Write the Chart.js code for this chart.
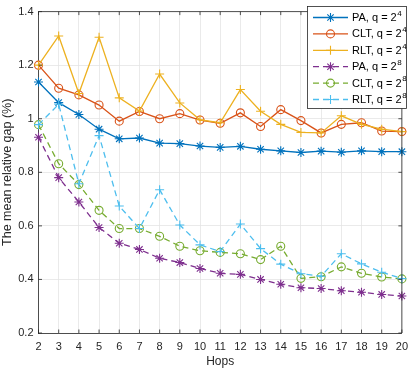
<!DOCTYPE html>
<html>
<head>
<meta charset="utf-8">
<script src="https://cdn.jsdelivr.net/npm/chart.js@4.4.1/dist/chart.umd.min.js"></script>
<style>
  html, body { margin: 0; padding: 0; background: #fff; }
  canvas { display: block; }
</style>
</head>
<body>
<canvas id="gap" width="415" height="373"></canvas>
<script>
const hops = [2, 3, 4, 5, 6, 7, 8, 9, 10, 11, 12, 13, 14, 15, 16, 17, 18, 19, 20];

const paQ4 = [1.137, 1.06, 1.016, 0.961, 0.925, 0.928, 0.909, 0.907, 0.898, 0.893, 0.897, 0.886, 0.880, 0.874, 0.879, 0.875, 0.880, 0.877, 0.877];
const cltQ4 = [1.2, 1.114, 1.089, 1.051, 0.991, 1.027, 1.0, 1.019, 0.995, 0.983, 1.022, 0.971, 1.034, 0.993, 0.947, 0.979, 0.985, 0.954, 0.952];
const rltQ4 = [1.2, 1.309, 1.094, 1.304, 1.078, 1.029, 1.167, 1.059, 0.996, 0.985, 1.109, 1.028, 0.979, 0.949, 0.947, 1.011, 0.979, 0.961, 0.952];
const paQ8 = [0.931, 0.78, 0.689, 0.594, 0.535, 0.512, 0.479, 0.463, 0.441, 0.423, 0.419, 0.40, 0.382, 0.369, 0.366, 0.358, 0.352, 0.344, 0.338];
const cltQ8 = [0.978, 0.832, 0.754, 0.658, 0.590, 0.590, 0.561, 0.524, 0.507, 0.501, 0.496, 0.474, 0.524, 0.404, 0.410, 0.447, 0.423, 0.409, 0.402];
const rltQ8 = [0.978, 1.054, 0.757, 0.937, 0.674, 0.59, 0.735, 0.603, 0.529, 0.504, 0.607, 0.515, 0.457, 0.421, 0.412, 0.496, 0.458, 0.427, 0.403];

const seriesLabels = ["PA, q = 2^4", "CLT, q = 2^4", "RLT, q = 2^4", "PA, q = 2^8", "CLT, q = 2^8", "RLT, q = 2^8"];
const yTicks = [0.2, 0.4, 0.6, 0.8, 1, 1.2, 1.4];

const FONT = "'Liberation Sans', Arial, Helvetica, sans-serif";
const INK = "#262626";
const CLEAR = "rgba(0,0,0,0)";

const makeSet = (i, data, color, marker, dashed) => ({
  label: seriesLabels[i],
  data: data,
  borderColor: color,
  backgroundColor: CLEAR,
  borderWidth: 1.3,
  borderDash: dashed ? [6, 4] : [],
  pointStyle: marker,
  pointRadius: marker === "circle" ? 4 : 4.5,
  pointBorderWidth: 1.1,
  pointBackgroundColor: CLEAR,
  pointBorderColor: color,
  tension: 0,
  order: 6 - i,
});

// inner tick marks + top/right box, like the matlab axes
const axesBox = {
  id: "axesBox",
  afterDatasetsDraw(chart) {
    const { ctx, chartArea: a, scales } = chart;
    ctx.save();
    ctx.strokeStyle = INK;
    ctx.lineWidth = 0.8;
    ctx.beginPath();
    ctx.moveTo(a.left, a.top);
    ctx.lineTo(a.right, a.top);
    ctx.lineTo(a.right, a.bottom);
    scales.x.ticks.forEach((t, i) => {
      const x = scales.x.getPixelForTick(i);
      ctx.moveTo(x, a.bottom); ctx.lineTo(x, a.bottom - 3.5);
      ctx.moveTo(x, a.top); ctx.lineTo(x, a.top + 3.5);
    });
    scales.y.ticks.forEach((t) => {
      const y = scales.y.getPixelForValue(t.value);
      ctx.moveTo(a.left, y); ctx.lineTo(a.left + 3.5, y);
      ctx.moveTo(a.right, y); ctx.lineTo(a.right - 3.5, y);
    });
    ctx.stroke();
    ctx.restore();
  },
};

// legend box in the upper right corner, with superscript exponents
const boxLegend = {
  id: "boxLegend",
  afterDraw(chart) {
    const { ctx } = chart;
    const left = 307.5, top = 6.5, w = 99, h = 102;
    ctx.save();
    ctx.fillStyle = "#fff";
    ctx.fillRect(left, top, w, h);
    ctx.strokeStyle = INK;
    ctx.lineWidth = 0.8;
    ctx.strokeRect(left, top, w, h);

    chart.data.datasets.forEach((ds, i) => {
      const y = 17.5 + i * 16.4;
      ctx.strokeStyle = ds.borderColor;
      ctx.lineWidth = ds.borderWidth;
      ctx.setLineDash(ds.borderDash);
      ctx.beginPath();
      ctx.moveTo(313, y);
      ctx.lineTo(348, y);
      ctx.stroke();
      ctx.setLineDash([]);
      ctx.fillStyle = CLEAR;
      ctx.lineWidth = ds.pointBorderWidth;
      Chart.helpers.drawPoint(ctx, {
        pointStyle: ds.pointStyle,
        radius: ds.pointRadius,
        borderWidth: ds.pointBorderWidth,
        rotation: 0,
      }, 330.5, y);

      const [base, exp] = ds.label.split("^");
      ctx.fillStyle = "#000";
      ctx.textBaseline = "middle";
      ctx.font = "11px " + FONT;
      ctx.fillText(base, 352, y + 0.5);
      const bw = ctx.measureText(base).width;
      ctx.font = "8px " + FONT;
      ctx.fillText(exp, 352 + bw + 0.5, y - 4);
    });
    ctx.restore();
  },
};

new Chart(document.getElementById("gap"), {
  type: "line",
  data: {
    labels: hops,
    datasets: [
      makeSet(0, paQ4, "#0072BD", "star", false),
      makeSet(1, cltQ4, "#D95319", "circle", false),
      makeSet(2, rltQ4, "#EDB120", "cross", false),
      makeSet(3, paQ8, "#7E2F8E", "star", true),
      makeSet(4, cltQ8, "#77AC30", "circle", true),
      makeSet(5, rltQ8, "#4DBEEE", "cross", true),
    ],
  },
  options: {
    responsive: false,
    animation: false,
    devicePixelRatio: 1,
    layout: { padding: { top: 7.5, right: 7.5, left: 0, bottom: 0 } },
    plugins: {
      legend: { display: false },
      tooltip: { enabled: false },
    },
    scales: {
      x: {
        type: "category",
        offset: false,
        afterFit: (s) => { s.height = 40; },
        grid: { color: "#e4e4e4", lineWidth: 0.8, drawTicks: false },
        border: { display: true, color: INK, width: 0.8 },
        ticks: {
          color: INK,
          font: { family: FONT, size: 11 },
          padding: 7,
          maxRotation: 0,
          autoSkip: false,
        },
        title: {
          display: true,
          text: "Hops",
          color: INK,
          font: { family: FONT, size: 12 },
          padding: { top: 0, bottom: 4 },
        },
      },
      y: {
        min: 0.2,
        max: 1.4,
        afterFit: (s) => { s.width = 38.5; },
        afterBuildTicks: (s) => { s.ticks = yTicks.map((v) => ({ value: v })); },
        grid: { color: "#e4e4e4", lineWidth: 0.8, drawTicks: false },
        border: { display: true, color: INK, width: 0.8 },
        ticks: {
          color: INK,
          font: { family: FONT, size: 11 },
          padding: 5,
          callback: (v) => String(Number(v.toFixed(1))),
        },
        title: {
          display: true,
          text: "The mean relative gap (%)",
          color: INK,
          font: { family: FONT, size: 12.5 },
          padding: { top: 0, bottom: 0 },
        },
      },
    },
  },
  plugins: [axesBox, boxLegend],
});
</script>
</body>
</html>
